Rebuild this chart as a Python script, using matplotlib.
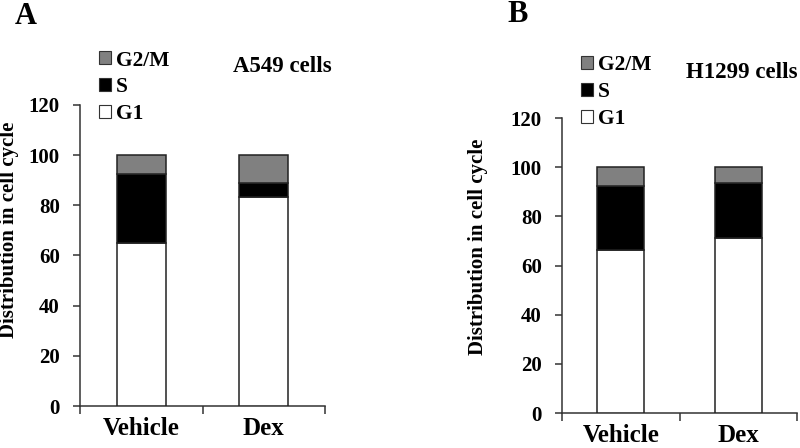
import matplotlib
matplotlib.use("Agg")
import matplotlib.pyplot as plt
from matplotlib.patches import Patch

plt.rcParams['font.family'] = ['Liberation Serif', 'DejaVu Serif']
plt.rcParams['font.weight'] = 'bold'

categories = ["Vehicle", "Dex"]
phases = ["G1", "S", "G2/M"]
colors = {"G1": "#ffffff", "S": "#000000", "G2/M": "#808080"}

a549_g1 = [65.0, 83.3]
a549_s = [27.5, 5.5]
a549_g2m = [7.5, 11.2]

h1299_g1 = [66.3, 71.1]
h1299_s = [26.1, 22.3]
h1299_g2m = [7.6, 6.6]

yticks = [0, 20, 40, 60, 80, 100, 120]

W, H = 800, 448
fig = plt.figure(figsize=(8, 4.48), dpi=100)


def px_axes(l, r, b, t):
    return fig.add_axes([l / W, 1 - b / H, (r - l) / W, (b - t) / H])


def draw(ax, g1, s, g2m, ylabel_x, ylabel_y, ticklab_pad):
    x = [0.5, 1.5]
    ax.bar(x, g1, width=0.4, color=colors["G1"], edgecolor="#222222", linewidth=1.1, zorder=3)
    ax.bar(x, s, width=0.4, bottom=g1, color=colors["S"], edgecolor="#222222", linewidth=1.1, zorder=3)
    bottom_g = [a + b for a, b in zip(g1, s)]
    ax.bar(x, g2m, width=0.4, bottom=bottom_g, color=colors["G2/M"], edgecolor="#222222", linewidth=1.1, zorder=3)
    ax.set_xlim(0, 2)
    ax.set_ylim(0, 120)
    ax.set_yticks(yticks)
    ax.set_yticklabels([str(v) for v in yticks], fontsize=15, fontweight='bold')
    ax.set_xticks([0, 1, 2])
    ax.set_xticklabels([])
    ax.set_xticks(x, minor=True)
    ax.set_xticklabels(categories, minor=True, fontsize=18, fontweight='bold')
    ax.tick_params(axis='x', which='minor', length=0, pad=8)
    ax.tick_params(axis='x', which='major', length=6, width=1.1, direction='out', color="#333333")
    ax.tick_params(axis='y', length=5, width=1.1, direction='out', pad=ticklab_pad, color="#333333")
    for sp in ["top", "right"]:
        ax.spines[sp].set_visible(False)
    for sp in ["left", "bottom"]:
        ax.spines[sp].set_linewidth(1.1)
        ax.spines[sp].set_color("#333333")
    fig.text(ylabel_x / W, 1 - ylabel_y / H, "Distribution in cell cycle", rotation=90,
             ha='center', va='center', fontsize=15, fontweight='bold')


def legend_at(xp, yp):
    handles = [Patch(facecolor=colors[p], edgecolor="#333333", linewidth=0.8) for p in ["G2/M", "S", "G1"]]
    fig.legend(handles, ["G2/M", "S", "G1"], loc='upper left', bbox_to_anchor=(xp / W, 1 - yp / H),
               frameon=False, prop={'weight': 'bold', 'size': 15.5},
               handlelength=0.55, handleheight=0.55, handletextpad=0.25, labelspacing=0.31,
               borderpad=0, borderaxespad=0)


axA = px_axes(80, 325, 406, 105)
draw(axA, a549_g1, a549_s, a549_g2m, 9, 230, 9.5)
legend_at(99, 50.5)
fig.text(282 / W, 1 - 66 / H, "A549 cells", ha='center', va='center', fontsize=16.5, fontweight='bold')
fig.text(26 / W, 1 - 17 / H, "A", ha='center', va='center', fontsize=22, fontweight='bold')

axB = px_axes(562, 797, 413, 118)
draw(axB, h1299_g1, h1299_s, h1299_g2m, 478, 247, 9.5)
legend_at(581, 55.5)
fig.text(742 / W, 1 - 72 / H, "H1299 cells", ha='center', va='center', fontsize=16.5, fontweight='bold')
fig.text(518 / W, 1 - 14 / H, "B", ha='center', va='center', fontsize=22, fontweight='bold')

fig.savefig("out.png", dpi=100)
